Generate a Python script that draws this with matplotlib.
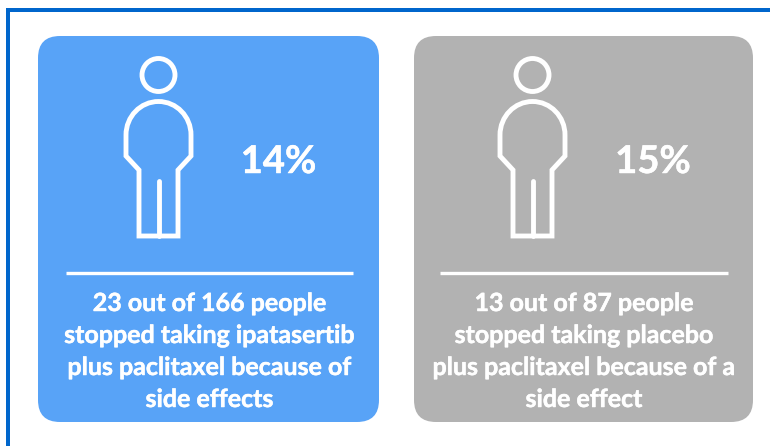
import matplotlib
matplotlib.use("Agg")
import matplotlib.pyplot as plt
import matplotlib.patheffects as pe
from matplotlib.patches import FancyBboxPatch, Circle, PathPatch, Rectangle
from matplotlib.path import Path

percents = ["14%", "15%"]
captions = [
    ["23 out of 166 people", "stopped taking ipatasertib", "plus paclitaxel because of", "side effects"],
    ["13 out of 87 people", "stopped taking placebo", "plus paclitaxel because of a", "side effect"],
]
card_colors = ["#58A3F7", "#B2B2B2"]
card_x = [38, 414]
card_w = [341, 339]
person_x = [158.5, 532.5]
pct_x = [278.5, 653]
rule_x = [(66, 353), (440, 728)]
text_x = [209.5, 584]

FONT = "Lato"
bold = [pe.withStroke(linewidth=0.35, foreground="white")]
fig = plt.figure(figsize=(7.70, 4.46), dpi=100)
ax = fig.add_axes([0, 0, 1, 1])
ax.set_xlim(0, 770)
ax.set_ylim(446, 0)
ax.axis("off")

# outer frame
ax.add_patch(Rectangle((6, 8), 764, 4, fc="#0066CC", ec="none"))
ax.add_patch(Rectangle((6, 8), 4, 438, fc="#0066CC", ec="none"))

LW = 3.5

def person(cx):
    ax.add_patch(Circle((cx, 75), 16.5, fc="none", ec="white", lw=LW))
    verts = [
        (cx - 19.5, 236), (cx - 19.5, 170), (cx - 32.5, 156), (cx - 32.5, 135),
        (cx - 32.5, 116.5), (cx - 18, 101.5), (cx, 101.5),
        (cx + 18, 101.5), (cx + 32.5, 116.5), (cx + 32.5, 135),
        (cx + 32.5, 156), (cx + 19.5, 170), (cx + 19.5, 236), (cx - 19.5, 236),
    ]
    codes = [Path.MOVETO, Path.LINETO, Path.LINETO, Path.LINETO,
             Path.CURVE4, Path.CURVE4, Path.CURVE4,
             Path.CURVE4, Path.CURVE4, Path.CURVE4,
             Path.LINETO, Path.LINETO, Path.LINETO, Path.CLOSEPOLY]
    ax.add_patch(PathPatch(Path(verts, codes), fc="none", ec="white", lw=LW, joinstyle="miter"))
    ax.plot([cx, cx], [181, 236], color="white", lw=LW, solid_capstyle="round")

for k in range(2):
    x, w = card_x[k], card_w[k]
    r = 22
    ax.add_patch(FancyBboxPatch((x + r, 36 + r), w - 2 * r, 386 - 2 * r,
                                boxstyle=f"round,pad={r},rounding_size={r}",
                                fc=card_colors[k], ec="none"))
    person(person_x[k])
    ax.text(pct_x[k], 162, percents[k], color="white", fontsize=27.5, fontweight="bold",
            family=FONT, ha="center", va="center", path_effects=bold)
    ax.plot(rule_x[k], [273, 273], color="white", lw=2.4, solid_capstyle="butt")
    for i, line in enumerate(captions[k]):
        ax.text(text_x[k], 303.5 + i * 32, line, color="white", fontsize=18,
                fontweight="bold", family=FONT, ha="center", va="center", path_effects=bold)

fig.savefig("out.png", dpi=100, facecolor="white")
